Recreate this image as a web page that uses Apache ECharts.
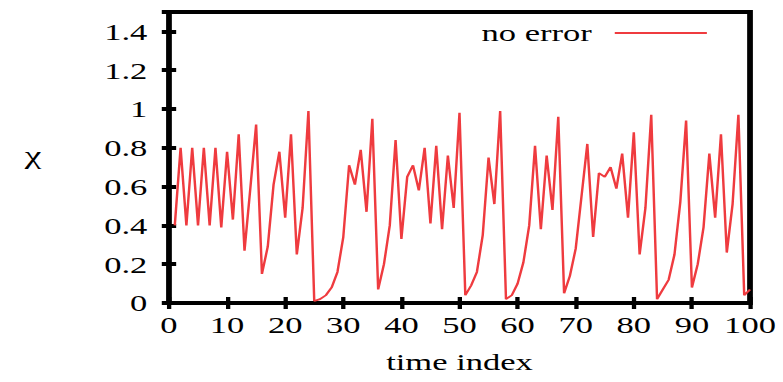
<!DOCTYPE html>
<html>
<head>
<meta charset="utf-8">
<script src="https://cdn.jsdelivr.net/npm/echarts@6/dist/echarts.min.js"></script>
<style>
  html, body { margin: 0; padding: 0; background: #fff; overflow: hidden; }
  /* the reference is stretched sideways, so draw narrow and widen */
  #chart { width: 544px; height: 382px; transform: scaleX(1.4393); transform-origin: 0 0; }
</style>
</head>
<body>
<div id="chart"></div>
<script>
// time index 1..100, chi value at each step
const chi = [
  0.40, 0.80, 0.40, 0.80, 0.40, 0.80, 0.40, 0.80, 0.39, 0.78,
  0.43, 0.87, 0.27, 0.59, 0.92, 0.15, 0.29, 0.61, 0.78, 0.44,
  0.87, 0.25, 0.49, 0.99, 0.01, 0.02, 0.04, 0.08, 0.16, 0.34,
  0.71, 0.61, 0.79, 0.47, 0.95, 0.07, 0.20, 0.40, 0.84, 0.33,
  0.65, 0.71, 0.58, 0.80, 0.41, 0.81, 0.38, 0.76, 0.49, 0.98,
  0.04, 0.09, 0.16, 0.35, 0.75, 0.51, 0.99, 0.02, 0.04, 0.10,
  0.21, 0.40, 0.81, 0.38, 0.76, 0.48, 0.96, 0.05, 0.14, 0.28,
  0.55, 0.82, 0.34, 0.67, 0.65, 0.70, 0.59, 0.77, 0.44, 0.88,
  0.25, 0.49, 0.97, 0.02, 0.07, 0.12, 0.25, 0.52, 0.94, 0.08,
  0.20, 0.39, 0.77, 0.44, 0.87, 0.26, 0.51, 0.97, 0.04, 0.07
];
const firstIndex = 1;
const xRange = [0, 100, 10];
const yRange = [0, 1.5, 0.2];
const seriesName = "no error";

const font = "'Liberation Serif', 'Times New Roman', serif";
const red = "#ef3b3f";
const points = chi.map((v, i) => [firstIndex + i, v]);

const chart = echarts.init(document.getElementById("chart"), null, { renderer: "svg" });

const xBase = {
  type: "value", min: xRange[0], max: xRange[1], interval: xRange[2],
  splitLine: { show: false }, axisLine: { show: false },
  axisTick: { inside: true, length: 6, lineStyle: { color: "#000", width: 3 } },
};
const yBase = {
  type: "value", min: yRange[0], max: yRange[1], interval: yRange[2],
  splitLine: { show: false }, axisLine: { show: false },
  axisTick: { inside: true, length: 5, lineStyle: { color: "#000", width: 4 } },
};

chart.setOption({
  animation: false,
  grid: { show: true, left: 117.4, right: 22.9, top: 12, bottom: 79, borderColor: "#000", borderWidth: 4 },
  legend: {
    data: [{ name: seriesName, icon: "rect" }], left: 329.5, top: 16, align: "right",
    itemWidth: 64, itemHeight: 2,
    textStyle: { fontFamily: font, fontSize: 24, color: "#000", padding: [0, 11, 0, 0] },
  },
  xAxis: [
    {
      ...xBase, position: "bottom",
      name: "time index", nameLocation: "middle", nameGap: 47,
      nameTextStyle: { fontFamily: font, fontSize: 24, color: "#000" },
      axisLabel: { fontFamily: font, fontSize: 24, color: "#000", margin: 10 },
    },
    { ...xBase, position: "top", axisLabel: { show: false } },
  ],
  yAxis: [
    {
      ...yBase, position: "left",
      axisLabel: {
        fontFamily: font, fontSize: 24, color: "#000", margin: 15,
        formatter: (v) => (v > 1.45 ? "" : String(+v.toFixed(1))),
      },
    },
    { ...yBase, position: "right", axisLabel: { show: false } },
  ],
  graphic: [{
    type: "text", x: 22.9, y: 155,
    style: { text: "χ", font: "26px " + font, fill: "#000", textAlign: "center", textVerticalAlign: "middle" },
  }],
  series: [{
    name: seriesName, type: "line", data: points,
    xAxisIndex: 0, yAxisIndex: 0,
    symbol: "none", lineStyle: { color: red, width: 1.7 }, itemStyle: { color: red },
  }],
});
</script>
</body>
</html>
